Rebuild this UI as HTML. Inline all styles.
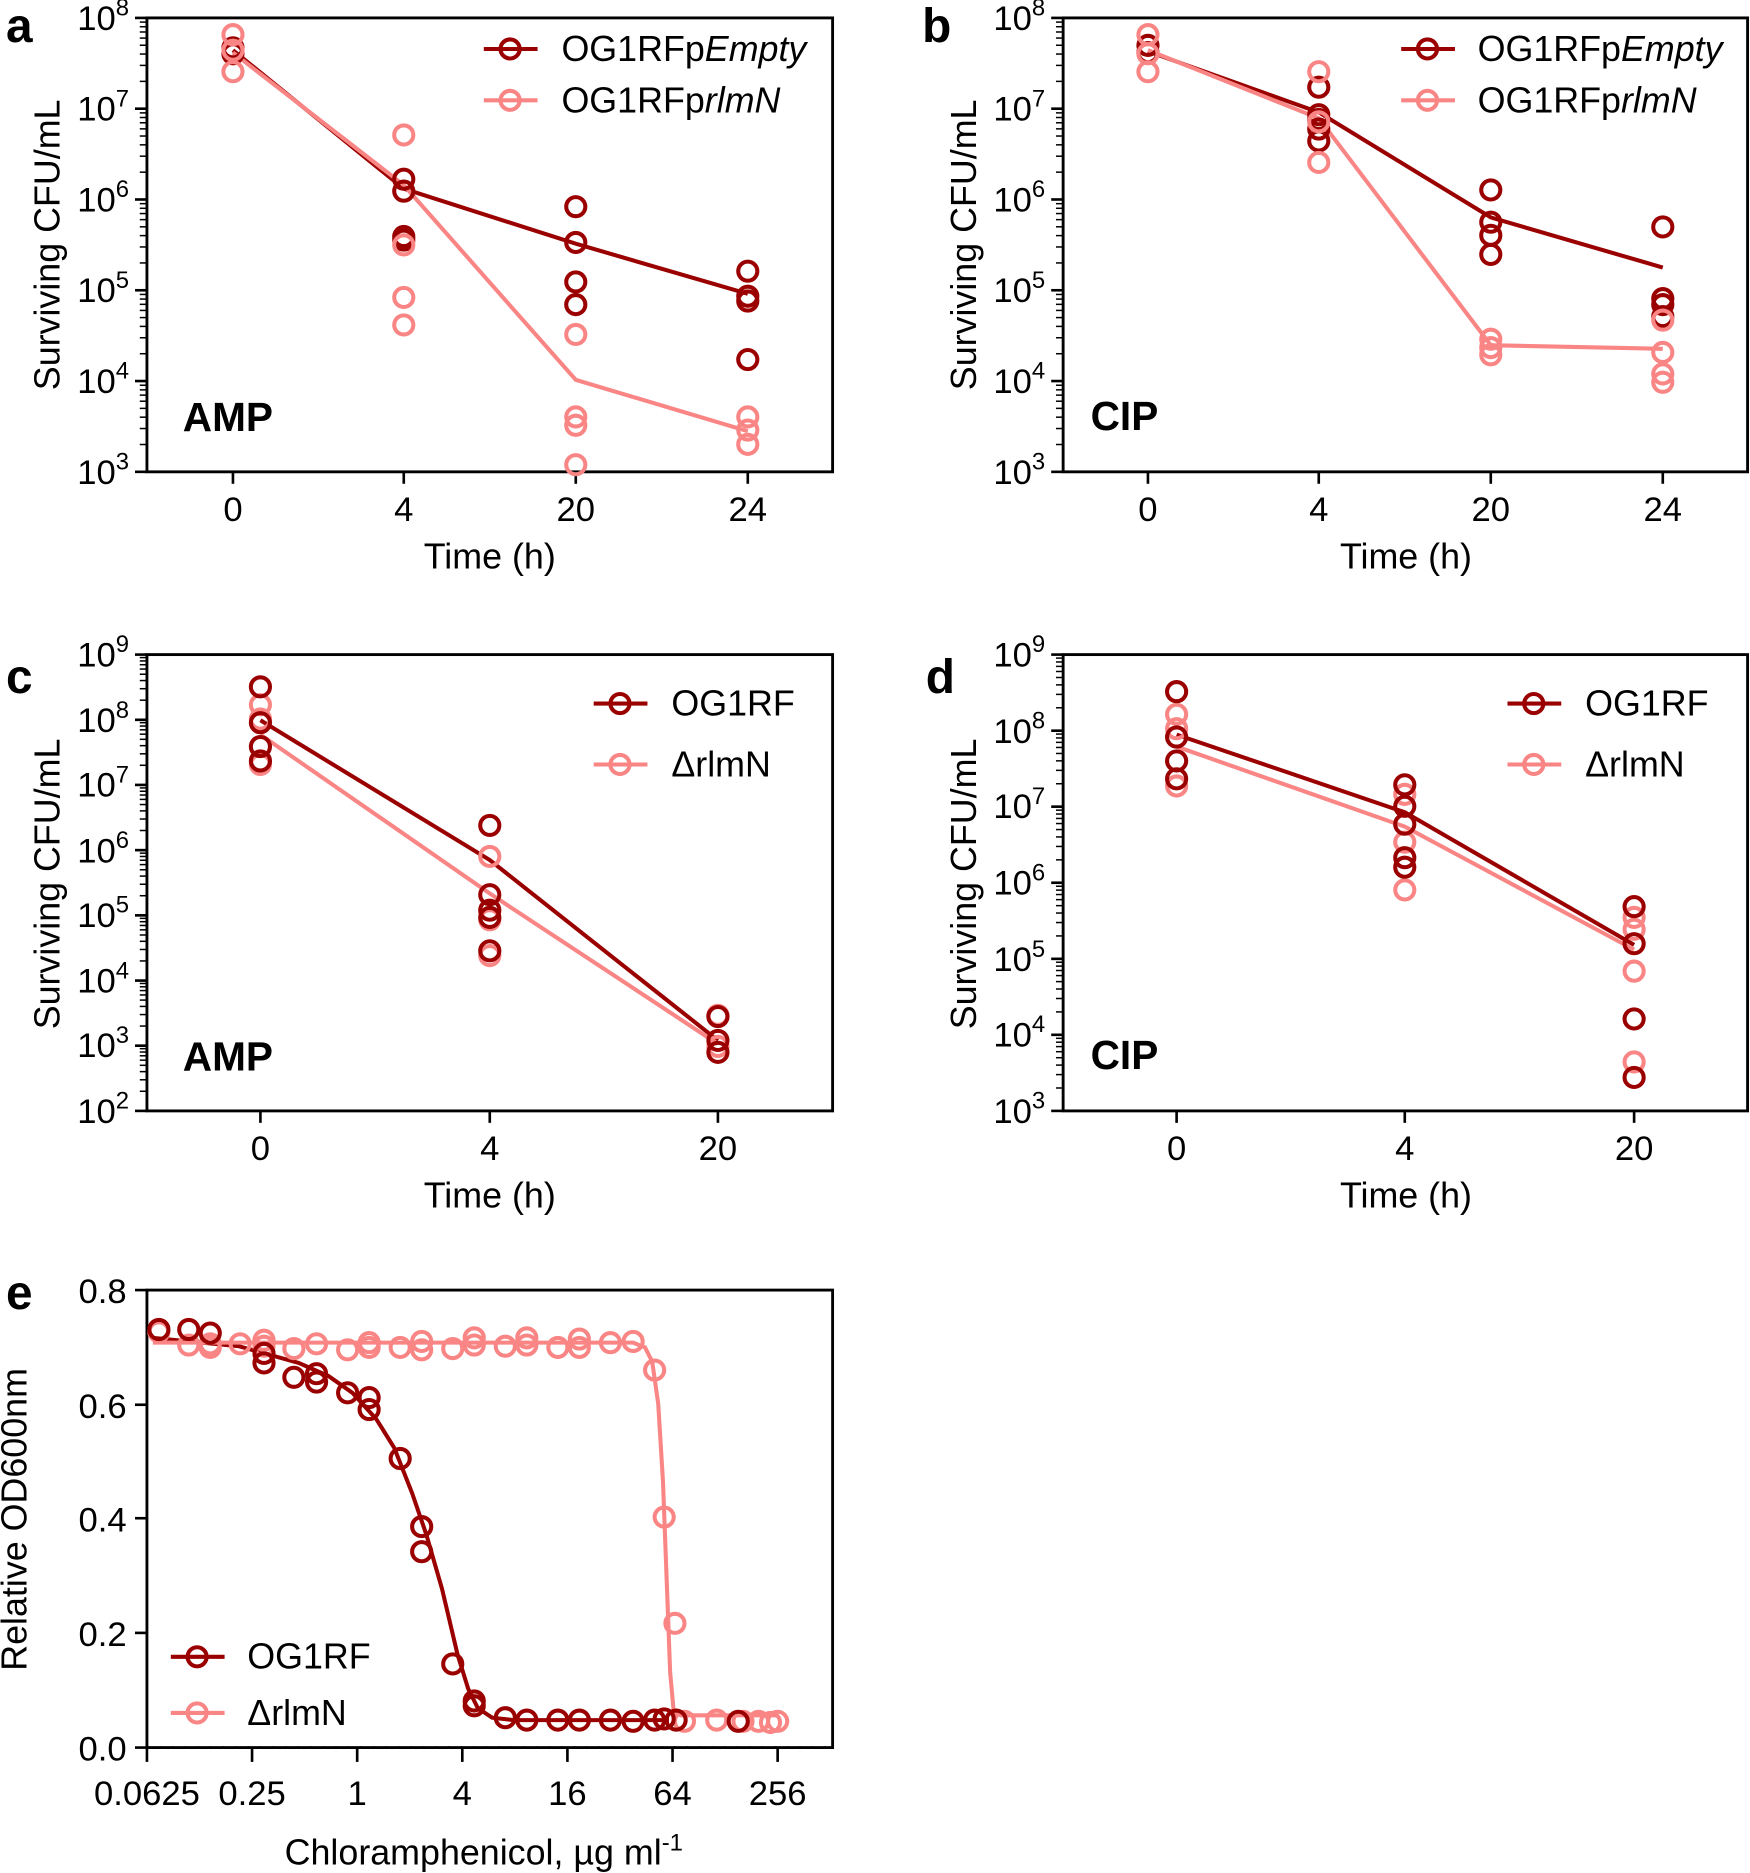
<!DOCTYPE html>
<html><head><meta charset="utf-8"><style>
html,body{margin:0;padding:0;background:#fff}
svg{display:block}
text{font-family:"Liberation Sans",sans-serif;fill:#000}
.ax{fill:none;stroke:#000;stroke-width:2.4}
.tk{stroke:#000;stroke-width:2.2}
.mt{stroke:#000;stroke-width:1.5}
.d{fill:none;stroke:#9b0000;stroke-width:3.4}
.p{fill:none;stroke:#f98585;stroke-width:3.4}
.tl{font-size:29px}
.tl tspan{font-size:20px}
.lab{font-size:30px}
.big{font-size:40px;font-weight:bold}
.sb{font-size:34px;font-weight:bold}
.lg{font-size:30px}
</style></head><body>
<svg width="1750" height="1873" viewBox="0 0 1465 1568" xmlns="http://www.w3.org/2000/svg">
<defs>
<g id="mn"><g class="mt">
<line x1="-6" x2="0" y1="-0.301" y2="-0.301" vector-effect="non-scaling-stroke"/>
<line x1="-6" x2="0" y1="-0.477" y2="-0.477" vector-effect="non-scaling-stroke"/>
<line x1="-6" x2="0" y1="-0.602" y2="-0.602" vector-effect="non-scaling-stroke"/>
<line x1="-6" x2="0" y1="-0.699" y2="-0.699" vector-effect="non-scaling-stroke"/>
<line x1="-6" x2="0" y1="-0.778" y2="-0.778" vector-effect="non-scaling-stroke"/>
<line x1="-6" x2="0" y1="-0.845" y2="-0.845" vector-effect="non-scaling-stroke"/>
<line x1="-6" x2="0" y1="-0.903" y2="-0.903" vector-effect="non-scaling-stroke"/>
<line x1="-6" x2="0" y1="-0.954" y2="-0.954" vector-effect="non-scaling-stroke"/>
</g></g>
</defs>

<!-- Panel a -->
<text x="5" y="35" class="big">a</text>
<rect x="123" y="15" width="574" height="380" class="ax"/>
<g class="tk"><line x1="113" x2="123" y1="395" y2="395"/><line x1="113" x2="123" y1="319" y2="319"/><line x1="113" x2="123" y1="243" y2="243"/><line x1="113" x2="123" y1="167" y2="167"/><line x1="113" x2="123" y1="91" y2="91"/><line x1="113" x2="123" y1="15" y2="15"/>
<line x1="195" x2="195" y1="395" y2="405"/><line x1="338" x2="338" y1="395" y2="405"/><line x1="482" x2="482" y1="395" y2="405"/><line x1="626" x2="626" y1="395" y2="405"/></g>
<use href="#mn" transform="translate(123,395) scale(1,76)"/><use href="#mn" transform="translate(123,319) scale(1,76)"/><use href="#mn" transform="translate(123,243) scale(1,76)"/><use href="#mn" transform="translate(123,167) scale(1,76)"/><use href="#mn" transform="translate(123,91) scale(1,76)"/>
<g class="tl" text-anchor="end">
<text x="108" y="405">10<tspan dy="-12" font-size="19">3</tspan></text>
<text x="108" y="329">10<tspan dy="-12" font-size="19">4</tspan></text>
<text x="108" y="253">10<tspan dy="-12" font-size="19">5</tspan></text>
<text x="108" y="177">10<tspan dy="-12" font-size="19">6</tspan></text>
<text x="108" y="101">10<tspan dy="-12" font-size="19">7</tspan></text>
<text x="108" y="25">10<tspan dy="-12" font-size="19">8</tspan></text>
</g>
<g class="tl" text-anchor="middle"><text x="195" y="436">0</text><text x="338" y="436">4</text><text x="482" y="436">20</text><text x="626" y="436">24</text></g>
<text x="410" y="476" class="lab" text-anchor="middle">Time (h)</text>
<text transform="translate(50,205) rotate(-90)" class="lab" text-anchor="middle">Surviving CFU/mL</text>
<text x="153" y="361" class="sb">AMP</text>
<polyline class="d" points="195,42 338,158 482,204 626,246"/>
<polyline class="p" points="195,44 338,155 482,318 626,361"/>
<g class="d"><circle cx="195" cy="40" r="8"/><circle cx="195" cy="45" r="8"/><circle cx="338" cy="150" r="8"/><circle cx="338" cy="160" r="8"/><circle cx="338" cy="198" r="8"/><circle cx="338" cy="201" r="8"/><circle cx="482" cy="173" r="8"/><circle cx="482" cy="203" r="8"/><circle cx="482" cy="236" r="8"/><circle cx="482" cy="255" r="8"/><circle cx="626" cy="227" r="8"/><circle cx="626" cy="248" r="8"/><circle cx="626" cy="252" r="8"/><circle cx="626" cy="301" r="8"/></g>
<g class="p"><circle cx="195" cy="29" r="8"/><circle cx="195" cy="42" r="8"/><circle cx="195" cy="60" r="8"/><circle cx="338" cy="113" r="8"/><circle cx="338" cy="205" r="8"/><circle cx="338" cy="249" r="8"/><circle cx="338" cy="272" r="8"/><circle cx="482" cy="280" r="8"/><circle cx="482" cy="349" r="8"/><circle cx="482" cy="356" r="8"/><circle cx="482" cy="389" r="8"/><circle cx="626" cy="349" r="8"/><circle cx="626" cy="360" r="8"/><circle cx="626" cy="372" r="8"/></g>
<line class="d" x1="405" x2="450" y1="41" y2="41"/><circle class="d" cx="427" cy="41" r="8"/>
<line class="p" x1="405" x2="450" y1="84" y2="84"/><circle class="p" cx="427" cy="84" r="8"/>
<text x="470" y="51" class="lg">OG1RFp<tspan font-style="italic">Empty</tspan></text>
<text x="470" y="94" class="lg">OG1RFp<tspan font-style="italic">rlmN</tspan></text>

<!-- Panel b -->
<text x="772" y="35" class="big">b</text>
<rect x="890" y="15" width="573" height="380" class="ax"/>
<g class="tk"><line x1="880" x2="890" y1="395" y2="395"/><line x1="880" x2="890" y1="319" y2="319"/><line x1="880" x2="890" y1="243" y2="243"/><line x1="880" x2="890" y1="167" y2="167"/><line x1="880" x2="890" y1="91" y2="91"/><line x1="880" x2="890" y1="15" y2="15"/>
<line x1="961" x2="961" y1="395" y2="405"/><line x1="1104" x2="1104" y1="395" y2="405"/><line x1="1248" x2="1248" y1="395" y2="405"/><line x1="1392" x2="1392" y1="395" y2="405"/></g>
<use href="#mn" transform="translate(890,395) scale(1,76)"/><use href="#mn" transform="translate(890,319) scale(1,76)"/><use href="#mn" transform="translate(890,243) scale(1,76)"/><use href="#mn" transform="translate(890,167) scale(1,76)"/><use href="#mn" transform="translate(890,91) scale(1,76)"/>
<g class="tl" text-anchor="end">
<text x="875" y="405">10<tspan dy="-12" font-size="19">3</tspan></text>
<text x="875" y="329">10<tspan dy="-12" font-size="19">4</tspan></text>
<text x="875" y="253">10<tspan dy="-12" font-size="19">5</tspan></text>
<text x="875" y="177">10<tspan dy="-12" font-size="19">6</tspan></text>
<text x="875" y="101">10<tspan dy="-12" font-size="19">7</tspan></text>
<text x="875" y="25">10<tspan dy="-12" font-size="19">8</tspan></text>
</g>
<g class="tl" text-anchor="middle"><text x="961" y="436">0</text><text x="1104" y="436">4</text><text x="1248" y="436">20</text><text x="1392" y="436">24</text></g>
<text x="1177" y="476" class="lab" text-anchor="middle">Time (h)</text>
<text transform="translate(817,205) rotate(-90)" class="lab" text-anchor="middle">Surviving CFU/mL</text>
<text x="913" y="360" class="sb">CIP</text>
<polyline class="d" points="961,43 1104,94 1248,182 1392,224"/>
<polyline class="p" points="961,42 1104,99 1248,289 1392,292"/>
<g class="d"><circle cx="961" cy="38" r="8"/><circle cx="961" cy="44" r="8"/><circle cx="1104" cy="73" r="8"/><circle cx="1104" cy="96" r="8"/><circle cx="1104" cy="100" r="8"/><circle cx="1104" cy="108" r="8"/><circle cx="1104" cy="118" r="8"/><circle cx="1248" cy="159" r="8"/><circle cx="1248" cy="186" r="8"/><circle cx="1248" cy="197" r="8"/><circle cx="1248" cy="213" r="8"/><circle cx="1392" cy="190" r="8"/><circle cx="1392" cy="250" r="8"/><circle cx="1392" cy="255" r="8"/><circle cx="1392" cy="265" r="8"/></g>
<g class="p"><circle cx="961" cy="29" r="8"/><circle cx="961" cy="45" r="8"/><circle cx="961" cy="60" r="8"/><circle cx="1104" cy="60" r="8"/><circle cx="1104" cy="102" r="8"/><circle cx="1104" cy="136" r="8"/><circle cx="1248" cy="284" r="8"/><circle cx="1248" cy="291" r="8"/><circle cx="1248" cy="297" r="8"/><circle cx="1392" cy="268" r="8"/><circle cx="1392" cy="295" r="8"/><circle cx="1392" cy="313" r="8"/><circle cx="1392" cy="320" r="8"/></g>
<line class="d" x1="1173" x2="1218" y1="41" y2="41"/><circle class="d" cx="1195" cy="41" r="8"/>
<line class="p" x1="1173" x2="1218" y1="84" y2="84"/><circle class="p" cx="1195" cy="84" r="8"/>
<text x="1237" y="51" class="lg">OG1RFp<tspan font-style="italic">Empty</tspan></text>
<text x="1237" y="94" class="lg">OG1RFp<tspan font-style="italic">rlmN</tspan></text>

<!-- Panel c -->
<text x="5" y="580" class="big">c</text>
<rect x="123" y="548" width="574" height="382" class="ax"/>
<g class="tk"><line x1="113" x2="123" y1="930" y2="930"/><line x1="113" x2="123" y1="875.4" y2="875.4"/><line x1="113" x2="123" y1="820.9" y2="820.9"/><line x1="113" x2="123" y1="766.3" y2="766.3"/><line x1="113" x2="123" y1="711.7" y2="711.7"/><line x1="113" x2="123" y1="657.1" y2="657.1"/><line x1="113" x2="123" y1="602.6" y2="602.6"/><line x1="113" x2="123" y1="548" y2="548"/>
<line x1="218" x2="218" y1="930" y2="940"/><line x1="410" x2="410" y1="930" y2="940"/><line x1="601" x2="601" y1="930" y2="940"/></g>
<use href="#mn" transform="translate(123,930) scale(1,54.6)"/><use href="#mn" transform="translate(123,875.4) scale(1,54.6)"/><use href="#mn" transform="translate(123,820.9) scale(1,54.6)"/><use href="#mn" transform="translate(123,766.3) scale(1,54.6)"/><use href="#mn" transform="translate(123,711.7) scale(1,54.6)"/><use href="#mn" transform="translate(123,657.1) scale(1,54.6)"/><use href="#mn" transform="translate(123,602.6) scale(1,54.6)"/>
<g class="tl" text-anchor="end">
<text x="108" y="940">10<tspan dy="-12" font-size="19">2</tspan></text>
<text x="108" y="885">10<tspan dy="-12" font-size="19">3</tspan></text>
<text x="108" y="831">10<tspan dy="-12" font-size="19">4</tspan></text>
<text x="108" y="776">10<tspan dy="-12" font-size="19">5</tspan></text>
<text x="108" y="722">10<tspan dy="-12" font-size="19">6</tspan></text>
<text x="108" y="667">10<tspan dy="-12" font-size="19">7</tspan></text>
<text x="108" y="613">10<tspan dy="-12" font-size="19">8</tspan></text>
<text x="108" y="558">10<tspan dy="-12" font-size="19">9</tspan></text>
</g>
<g class="tl" text-anchor="middle"><text x="218" y="971">0</text><text x="410" y="971">4</text><text x="601" y="971">20</text></g>
<text x="410" y="1011" class="lab" text-anchor="middle">Time (h)</text>
<text transform="translate(50,740) rotate(-90)" class="lab" text-anchor="middle">Surviving CFU/mL</text>
<text x="153" y="896" class="sb">AMP</text>
<polyline class="d" points="218,603 410,720 601,871"/>
<polyline class="p" points="218,615 410,748 601,874"/>
<g class="p"><circle cx="218" cy="590" r="8"/><circle cx="218" cy="602" r="8"/><circle cx="218" cy="640" r="8"/><circle cx="410" cy="717" r="8"/><circle cx="410" cy="770" r="8"/><circle cx="410" cy="800" r="8"/><circle cx="601" cy="850" r="8"/><circle cx="601" cy="876" r="8"/></g>
<g class="d"><circle cx="218" cy="575" r="8"/><circle cx="218" cy="605" r="8"/><circle cx="218" cy="625" r="8"/><circle cx="218" cy="637" r="8"/><circle cx="410" cy="691" r="8"/><circle cx="410" cy="749" r="8"/><circle cx="410" cy="762" r="8"/><circle cx="410" cy="768" r="8"/><circle cx="410" cy="796" r="8"/><circle cx="601" cy="851" r="8"/><circle cx="601" cy="871" r="8"/><circle cx="601" cy="881" r="8"/></g>
<line class="d" x1="497" x2="542" y1="589" y2="589"/><circle class="d" cx="519" cy="589" r="8"/>
<line class="p" x1="497" x2="542" y1="640" y2="640"/><circle class="p" cx="519" cy="640" r="8"/>
<text x="562" y="599" class="lg">OG1RF</text>
<text x="562" y="650" class="lg">ΔrlmN</text>

<!-- Panel d -->
<text x="775" y="580" class="big">d</text>
<rect x="890" y="548" width="573" height="382" class="ax"/>
<g class="tk"><line x1="880" x2="890" y1="930" y2="930"/><line x1="880" x2="890" y1="866.3" y2="866.3"/><line x1="880" x2="890" y1="802.7" y2="802.7"/><line x1="880" x2="890" y1="739" y2="739"/><line x1="880" x2="890" y1="675.3" y2="675.3"/><line x1="880" x2="890" y1="611.7" y2="611.7"/><line x1="880" x2="890" y1="548" y2="548"/>
<line x1="985" x2="985" y1="930" y2="940"/><line x1="1176" x2="1176" y1="930" y2="940"/><line x1="1368" x2="1368" y1="930" y2="940"/></g>
<use href="#mn" transform="translate(890,930) scale(1,63.7)"/><use href="#mn" transform="translate(890,866.3) scale(1,63.7)"/><use href="#mn" transform="translate(890,802.7) scale(1,63.7)"/><use href="#mn" transform="translate(890,739) scale(1,63.7)"/><use href="#mn" transform="translate(890,675.3) scale(1,63.7)"/><use href="#mn" transform="translate(890,611.7) scale(1,63.7)"/>
<g class="tl" text-anchor="end">
<text x="875" y="940">10<tspan dy="-12" font-size="19">3</tspan></text>
<text x="875" y="876">10<tspan dy="-12" font-size="19">4</tspan></text>
<text x="875" y="813">10<tspan dy="-12" font-size="19">5</tspan></text>
<text x="875" y="749">10<tspan dy="-12" font-size="19">6</tspan></text>
<text x="875" y="685">10<tspan dy="-12" font-size="19">7</tspan></text>
<text x="875" y="622">10<tspan dy="-12" font-size="19">8</tspan></text>
<text x="875" y="558">10<tspan dy="-12" font-size="19">9</tspan></text>
</g>
<g class="tl" text-anchor="middle"><text x="985" y="971">0</text><text x="1176" y="971">4</text><text x="1368" y="971">20</text></g>
<text x="1177" y="1011" class="lab" text-anchor="middle">Time (h)</text>
<text transform="translate(817,740) rotate(-90)" class="lab" text-anchor="middle">Surviving CFU/mL</text>
<text x="913" y="895" class="sb">CIP</text>
<polyline class="d" points="985,615 1176,680 1368,791"/>
<polyline class="p" points="985,625 1176,692 1368,795"/>
<g class="p"><circle cx="985" cy="598" r="8"/><circle cx="985" cy="610" r="8"/><circle cx="985" cy="658" r="8"/><circle cx="1176" cy="665" r="8"/><circle cx="1176" cy="705" r="8"/><circle cx="1176" cy="745" r="8"/><circle cx="1368" cy="768" r="8"/><circle cx="1368" cy="778" r="8"/><circle cx="1368" cy="813" r="8"/><circle cx="1368" cy="889" r="8"/></g>
<g class="d"><circle cx="985" cy="579" r="8"/><circle cx="985" cy="617" r="8"/><circle cx="985" cy="637" r="8"/><circle cx="985" cy="652" r="8"/><circle cx="1176" cy="657" r="8"/><circle cx="1176" cy="675" r="8"/><circle cx="1176" cy="690" r="8"/><circle cx="1176" cy="718" r="8"/><circle cx="1176" cy="726" r="8"/><circle cx="1368" cy="759" r="8"/><circle cx="1368" cy="790" r="8"/><circle cx="1368" cy="853" r="8"/><circle cx="1368" cy="902" r="8"/></g>
<line class="d" x1="1262" x2="1307" y1="589" y2="589"/><circle class="d" cx="1284" cy="589" r="8"/>
<line class="p" x1="1262" x2="1307" y1="640" y2="640"/><circle class="p" cx="1284" cy="640" r="8"/>
<text x="1327" y="599" class="lg">OG1RF</text>
<text x="1327" y="650" class="lg">ΔrlmN</text>

<!-- Panel e -->
<text x="5" y="1096" class="big">e</text>
<rect x="123" y="1080" width="574" height="383" class="ax"/>
<line x1="123" x2="697" y1="1463" y2="1463" stroke="#000" stroke-width="2.2" stroke-dasharray="1.5 9"/>
<g class="tk"><line x1="113" x2="123" y1="1080" y2="1080"/><line x1="113" x2="123" y1="1176" y2="1176"/><line x1="113" x2="123" y1="1271" y2="1271"/><line x1="113" x2="123" y1="1367" y2="1367"/><line x1="113" x2="123" y1="1463" y2="1463"/>
<line x1="123" x2="123" y1="1463" y2="1475"/><line x1="211" x2="211" y1="1463" y2="1475"/><line x1="299" x2="299" y1="1463" y2="1475"/><line x1="387" x2="387" y1="1463" y2="1475"/><line x1="475" x2="475" y1="1463" y2="1475"/><line x1="563" x2="563" y1="1463" y2="1475"/><line x1="651" x2="651" y1="1463" y2="1475"/></g>
<g class="tl" text-anchor="end"><text x="106" y="1091">0.8</text><text x="106" y="1187">0.6</text><text x="106" y="1282">0.4</text><text x="106" y="1378">0.2</text><text x="106" y="1474">0.0</text></g>
<g class="tl" text-anchor="middle"><text x="123" y="1511">0.0625</text><text x="211" y="1511">0.25</text><text x="299" y="1511">1</text><text x="387" y="1511">4</text><text x="475" y="1511">16</text><text x="563" y="1511">64</text><text x="651" y="1511">256</text></g>
<text x="405" y="1561" class="lab" text-anchor="middle">Chloramphenicol, µg ml<tspan dy="-12" font-size="20">-1</tspan></text>
<text transform="translate(22,1272) rotate(-90)" class="lab" text-anchor="middle">Relative OD600nm</text>
<polyline class="d" points="128,1120 200,1127 250,1141 275,1152 295,1166 315,1188 330,1212 345,1250 357,1285 370,1330 383,1385 392,1414 400,1430 412,1438 430,1440 560,1440"/>
<polyline class="p" points="128,1124 530,1124 540,1128 546,1140 551,1175 555,1240 558,1320 561,1400 564,1433 570,1436 651,1436"/>
<g class="p"><circle cx="133" cy="1115" r="8"/><circle cx="158" cy="1126" r="8"/><circle cx="176" cy="1125" r="8"/><circle cx="176" cy="1128" r="8"/><circle cx="201" cy="1125" r="8"/><circle cx="221" cy="1122" r="8"/><circle cx="221" cy="1127" r="8"/><circle cx="246" cy="1129" r="8"/><circle cx="265" cy="1125" r="8"/><circle cx="291" cy="1130" r="8"/><circle cx="309" cy="1124" r="8"/><circle cx="309" cy="1128" r="8"/><circle cx="335" cy="1128" r="8"/><circle cx="353" cy="1123" r="8"/><circle cx="353" cy="1130" r="8"/><circle cx="379" cy="1129" r="8"/><circle cx="397" cy="1120" r="8"/><circle cx="397" cy="1126" r="8"/><circle cx="423" cy="1127" r="8"/><circle cx="441" cy="1120" r="8"/><circle cx="441" cy="1126" r="8"/><circle cx="467" cy="1128" r="8"/><circle cx="485" cy="1121" r="8"/><circle cx="485" cy="1128" r="8"/><circle cx="511" cy="1124" r="8"/><circle cx="530" cy="1123" r="8"/><circle cx="548" cy="1147" r="8"/><circle cx="556" cy="1270" r="8"/><circle cx="565" cy="1359" r="8"/><circle cx="573" cy="1441" r="8"/><circle cx="600" cy="1440" r="8"/><circle cx="622" cy="1441" r="8"/><circle cx="635" cy="1441" r="8"/><circle cx="645" cy="1442" r="8"/><circle cx="651" cy="1441" r="8"/></g>
<g class="d"><circle cx="133" cy="1113" r="8"/><circle cx="158" cy="1113" r="8"/><circle cx="176" cy="1116" r="8"/><circle cx="221" cy="1133" r="8"/><circle cx="221" cy="1141" r="8"/><circle cx="246" cy="1153" r="8"/><circle cx="265" cy="1150" r="8"/><circle cx="265" cy="1157" r="8"/><circle cx="291" cy="1166" r="8"/><circle cx="309" cy="1170" r="8"/><circle cx="309" cy="1180" r="8"/><circle cx="335" cy="1221" r="8"/><circle cx="353" cy="1278" r="8"/><circle cx="353" cy="1299" r="8"/><circle cx="379" cy="1393" r="8"/><circle cx="397" cy="1428" r="8"/><circle cx="397" cy="1424" r="8"/><circle cx="423" cy="1438" r="8"/><circle cx="441" cy="1440" r="8"/><circle cx="467" cy="1440" r="8"/><circle cx="485" cy="1440" r="8"/><circle cx="511" cy="1440" r="8"/><circle cx="530" cy="1441" r="8"/><circle cx="548" cy="1440" r="8"/><circle cx="556" cy="1439" r="8"/><circle cx="566" cy="1440" r="8"/><circle cx="618" cy="1441" r="8"/></g>
<line class="d" x1="143" x2="188" y1="1387" y2="1387"/><circle class="d" cx="165" cy="1387" r="8"/>
<line class="p" x1="143" x2="188" y1="1434" y2="1434"/><circle class="p" cx="165" cy="1434" r="8"/>
<text x="207" y="1397" class="lg">OG1RF</text>
<text x="207" y="1444" class="lg">ΔrlmN</text>
</svg>
</body></html>
